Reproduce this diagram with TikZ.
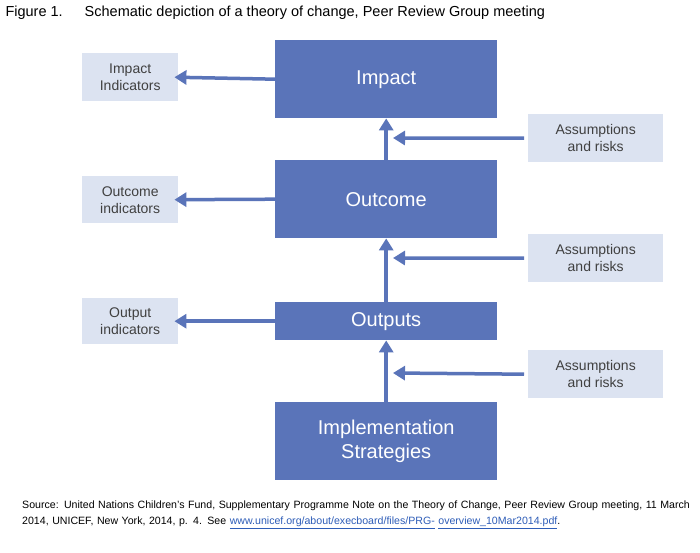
\documentclass[tikz,border=0pt]{standalone}
\usepackage{fontspec}
\setmainfont{Liberation Sans}
\usetikzlibrary{arrows.meta}
\definecolor{dk}{HTML}{5A74B9}
\definecolor{lt}{HTML}{DCE3F1}
\definecolor{lnk}{HTML}{2E5DB8}
\tikzset{
 big/.style={fill=dk,draw=none,text=white,font=\fontsize{20}{24}\selectfont,align=center,anchor=north west},
 small/.style={fill=lt,draw=none,text=black!75,font=\fontsize{14}{17}\selectfont,align=center,anchor=north west},
 arr/.style={draw=dk,line width=3.5pt,-{Triangle[length=12pt,width=14pt]}}
}
\begin{document}
\begin{tikzpicture}[x=1pt,y=-1pt]
\useasboundingbox[fill=white] (0,0) rectangle (700,553);
\node[anchor=west,font=\fontsize{14.5}{17}\selectfont] (t) at (2,13) {Figure 1.\hspace{22pt}Schematic depiction of a theory of change, Peer Review Group meeting};
\node[big,minimum width=222pt,minimum height=78pt] (imp) at (275,40) {Impact};
\node[big,minimum width=222pt,minimum height=78pt] (out) at (275,160) {Outcome};
\node[big,minimum width=222pt,minimum height=38pt] (op) at (275,302) {Outputs};
\node[big,minimum width=222pt,minimum height=78pt] (imps) at (275,402) {Implementation\\Strategies};
\node[small,minimum width=96pt,minimum height=48pt] (ii) at (82,53) {Impact\\Indicators};
\node[small,minimum width=96pt,minimum height=47pt] (oi) at (82,176) {Outcome\\indicators};
\node[small,minimum width=96pt,minimum height=46pt] (pi) at (82,298) {Output\\indicators};
\node[small,minimum width=135pt,minimum height=48pt] (a1) at (528,114) {Assumptions\\and risks};
\node[small,minimum width=135pt,minimum height=48pt] (a2) at (528,234) {Assumptions\\and risks};
\node[small,minimum width=135pt,minimum height=48pt] (a3) at (528,350) {Assumptions\\and risks};
\draw[arr] (imps.north) -- (op.south);
\draw[arr] (op.north) -- (out.south);
\draw[arr] (out.north) -- (imp.south);
\draw[arr] (imp.west) -- ([xshift=-4pt]ii.east);
\draw[arr] (out.west) -- ([xshift=-4pt]oi.east);
\draw[arr] (op.west) -- ([xshift=-4pt]pi.east);
\coordinate (c1) at (393,138);
\coordinate (c2) at (393,258);
\coordinate (c3) at (393,373);
\draw[arr] ([xshift=-4pt]a1.west) -- (c1);
\draw[arr] ([xshift=-4pt]a2.west) -- (c2);
\draw[arr] ([xshift=-4pt]a3.west) -- (c3);
\node[anchor=north west,text width=680pt,align=left,font=\fontsize{10.6}{15.5}\selectfont,inner sep=0pt] (src) at (22,501) {Source: United Nations Children’s Fund, Supplementary Programme Note on the Theory of Change, Peer Review Group meeting, 11 March 2014, UNICEF, New York, 2014, p. 4. See \textcolor{lnk}{\underline{www.unicef.org/about/execboard/files/PRG-}} \textcolor{lnk}{\underline{overview\_10Mar2014.pdf}}.};
\end{tikzpicture}
\end{document}
